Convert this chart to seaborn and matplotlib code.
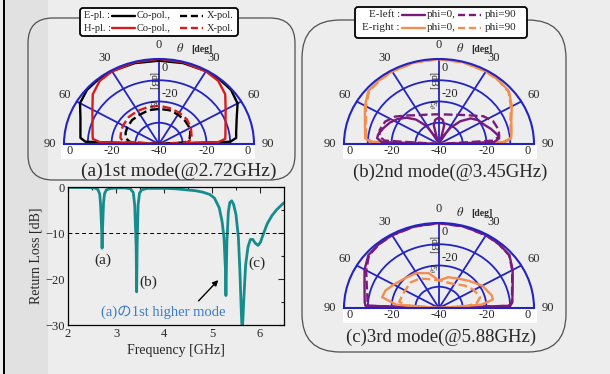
import numpy as np
import pandas as pd
import matplotlib
matplotlib.use('Agg')
import matplotlib.pyplot as plt
import seaborn as sns
from matplotlib.patches import FancyBboxPatch, Rectangle

# return loss of the antenna
freq_ghz = [2.0, 2.2, 2.4, 2.55, 2.62, 2.66, 2.68, 2.70, 2.71, 2.72, 2.74, 2.76, 2.80, 2.90,
            3.05, 3.20, 3.30, 3.36, 3.39, 3.42, 3.43, 3.44, 3.46, 3.49, 3.54, 3.65, 3.85,
            4.05, 4.25, 4.45, 4.65, 4.80, 4.95, 5.05, 5.15, 5.21, 5.25, 5.28, 5.29, 5.31,
            5.34, 5.37, 5.41, 5.45, 5.50, 5.55, 5.58, 5.61, 5.63, 5.66, 5.70, 5.75, 5.80,
            5.85, 5.90, 5.96, 6.01, 6.06, 6.15, 6.25, 6.35, 6.50]
return_loss_db = [-0.1, -0.1, -0.1, -0.2, -0.5, -1.5, -4, -9, -13.3, -9, -3.5, -1.5, -0.6, -0.3,
                  -0.2, -0.2, -0.4, -1.2, -4, -13, -22.8, -13, -4, -1.3, -0.6, -0.3, -0.3,
                  -0.3, -0.4, -0.6, -0.8, -1.1, -1.6, -2.4, -4.5, -7.5, -11, -18, -23.6, -12,
                  -5.5, -3.4, -3.0, -3.8, -6, -11, -18, -27, -32, -25, -17, -13, -11.4,
                  -11.4, -12.2, -12.7, -12, -10.5, -8, -6.2, -4.9, -3.4]

# radiation patterns: theta [deg] and E_theta [dB]
theta_a = [-90, -88, -85, -80, -70, -60, -50, -40, -30, -15, 0, 15, 30, 40, 50, 60, 70, 80, 85, 88, 90]
e_co_a = [-40, -9, -6.8, -6.4, -4.8, -1.6, -0.4, -0.3, -0.4, -0.6, -0.8, -0.6, -0.4, -0.3, -0.4,
          -1.8, -5.2, -7, -7.4, -10, -40]
h_co_a = [-40, -15, -12, -11.6, -10.2, -7.6, -3.6, -1.2, -0.5, -0.2, 0, -0.2, -0.5, -1.2, -3.6,
          -7.6, -10.2, -11.6, -12, -15, -40]
theta_ax = [-90, -86, -80, -70, -60, -45, -30, -15, 0, 15, 30, 45, 60, 70, 80, 86, 90]
e_x_a = [-40, -28, -26, -25, -24.5, -24, -24, -23.5, -23.5, -23.5, -24, -24.5, -25, -26, -27, -29, -40]
h_x_a = [-40, -25, -23.5, -23, -22.5, -22, -22, -22, -22, -22.5, -23, -23.5, -24.5, -25.5, -26, -28, -40]

theta_b = theta_a
e_right_phi0_b = [-40, -11, -8.8, -8.4, -6.8, -4, -1.2, -0.8, -0.5, -0.2, 0, -0.2, -0.5, -0.8,
                  -1.5, -4.6, -7.6, -9, -9.5, -12, -40]
e_right_phi90_b = [-40, -12, -9.2, -8.8, -7.2, -4.5, -1.5, -1, -0.6, -0.3, -0.1, -0.3, -0.6, -1,
                   -1.8, -5, -8, -9.4, -9.8, -13, -40]
theta_bl = [-90, -88, -84, -80, -72, -64, -56, -48, -40, -32, -26, -20, -14, -8, 0,
            8, 14, 20, 26, 32, 40, 48, 56, 64, 72, 80, 84, 88, 90]
e_left_phi0_b = [-40, -16, -13.8, -14, -15.5, -17, -19, -21.5, -25, -30, -36, -38, -31, -28.5, -27.5,
                 -28.5, -31, -38, -36, -31, -26, -22, -20, -19, -17, -15, -14.5, -17, -40]
theta_bd = [-90, -86, -82, -75, -65, -55, -45, -35, -20, 0, 20, 35, 45, 55, 65, 75, 82, 86, 90]
e_left_phi90_b = [-40, -17, -14.6, -14.2, -15, -17.5, -21, -23.5, -25.3, -26, -25.3, -23.3, -21,
                  -17.2, -14.8, -14, -14.4, -17, -40]

theta_c = theta_a
e_left_phi0_c = [-40, -9, -8.6, -8.2, -6.6, -3.8, -1.2, -0.7, -0.4, -0.2, 0, -0.2, -0.4, -0.7,
                 -1.3, -4.2, -7, -8.6, -9, -10, -40]
e_left_phi90_c = [-40, -10, -9.8, -9.4, -7.6, -4.6, -1.5, -0.8, -0.5, -0.3, -0.1, -0.3, -0.5, -0.8,
                  -1.4, -4.4, -7.2, -8.8, -9.2, -10.5, -40]
theta_cr = [-90, -85, -78, -70, -60, -45, -30, -15, 0, 15, 30, 45, 60, 75, 80, 85, 90]
e_right_phi0_c = [-40, -22, -15.5, -16, -18, -20, -21, -23, -27, -25, -24, -22, -19, -17, -17, -22, -40]
theta_crd = [-90, -85, -80, -65, -45, -30, -15, 0, 15, 30, 45, 60, 74, 82, 88, 90]
e_right_phi90_c = [-40, -26, -23, -23.5, -23, -24, -26, -27, -27.5, -27, -25, -23, -22, -24, -30, -40]

theta_ticks = [-90, -60, -30, 0, 30, 60, 90]
theta_tick_labels = ['90', '60', '30', '0', '30', '60', '90']
r_rings = [-30, -20, -10]
base_labels = ['0', '-20', '-40', '-20', '0']

BLUE = '#2323c4'
TEAL = '#168c8c'
PURPLE = '#7a1a7a'
ORANGE = '#f28f4e'
RED = '#d41e1e'

sns.set_theme(style='white')
plt.rcParams['font.family'] = ['Liberation Serif', 'Noto Sans CJK JP']
plt.rcParams['mathtext.fontset'] = 'stix'

W, H = 610, 374
fig = plt.figure(figsize=(6.1, 3.74), dpi=100, facecolor='#ededed')


def fx(x):
    return x / W


def fy(y):
    return 1 - y / H


# background layer: stripes, frames, white strips under the polar plots
bg = fig.add_axes([0, 0, 1, 1], zorder=-5)
bg.set_xlim(0, W)
bg.set_ylim(H, 0)
bg.axis('off')
bg.add_patch(Rectangle((5, 0), 43, H, fc='#e1e1e1', ec='none'))
bg.add_patch(Rectangle((2.5, 0), 2.5, H, fc='black', ec='none'))
bg.add_patch(FancyBboxPatch((28, 18), 267, 162, boxstyle='round,pad=0,rounding_size=25',
                            fc='none', ec='#505050', lw=0.9))
bg.add_patch(FancyBboxPatch((302, 20), 264, 332, boxstyle='round,pad=0,rounding_size=38',
                            fc='none', ec='#505050', lw=0.9))
for (x0, y0) in [(61, 144), (343, 144), (343, 308)]:
    bg.add_patch(Rectangle((x0, y0), 194, 15, fc='white', ec='none'))


def polar_panel(cx, cy, curves):
    # matplotlib squares the half-disc bbox, so the axes is twice as tall as the half disc
    rx, ry = 95, 85
    ax = fig.add_axes([fx(cx - rx), fy(cy + ry / 2), 2 * rx / W, 2 * ry / H], projection='polar')
    for th, vals, col, ls in curves:
        sns.lineplot(x=np.deg2rad(th), y=vals, ax=ax, color=col, lw=1.7, linestyle=ls,
                     sort=False, estimator=None)
    ax.set_theta_zero_location('N')
    ax.set_theta_direction(-1)
    ax.set_thetamin(-90)
    ax.set_thetamax(90)
    ax.set_ylim(-40, 0)
    ax.set_aspect('auto')
    ax.set_facecolor('none')
    ax.set_xlabel('')
    ax.set_ylabel('')
    ax.set_xticks(np.deg2rad(theta_ticks))
    ax.set_xticklabels(theta_tick_labels, fontsize=9)
    ax.tick_params(axis='x', pad=-3)
    ax.set_yticks(r_rings)
    ax.set_yticklabels([])
    ax.grid(True, color=BLUE, lw=1.3)
    for s in ax.spines.values():
        s.set_color(BLUE)
        s.set_linewidth(1.5)
    # radial scale and axis names
    ax.annotate('0', (0, 0), xytext=(2, -2), textcoords='offset points', ha='left', va='top', fontsize=9)
    ax.annotate('-20', (0, -20), xytext=(2, 1), textcoords='offset points', ha='left', va='bottom', fontsize=9)
    ax.annotate('[dB]', (0, -6), xytext=(-1, 0), textcoords='offset points', ha='right', va='top',
                rotation=-90, fontsize=7)
    ax.annotate(r'$E_\theta$', (0, -19), xytext=(-1, 0), textcoords='offset points', ha='right',
                va='top', rotation=-90, fontsize=6)
    ax.annotate(r'$\theta$', (0, 0), xytext=(12, 3), textcoords='offset points', ha='left',
                va='bottom', fontsize=9)
    ax.annotate('[deg]', (0, 0), xytext=(23, 3.5), textcoords='offset points', ha='left',
                va='bottom', fontsize=7, fontweight='bold')
    base_pos = [(-90, 0, 'left', 2), (-90, -20, 'center', 0), (0, -40, 'center', 0),
                (90, -20, 'center', 0), (90, 0, 'right', -2)]
    for (th, r, ha, dx), lab in zip(base_pos, base_labels):
        ax.annotate(lab, (np.deg2rad(th), r), xytext=(dx, -1), textcoords='offset points',
                    ha=ha, va='top', fontsize=9)
    return ax


polar_panel(159, 144, [(theta_a, e_co_a, 'black', '-'), (theta_a, h_co_a, RED, '-'),
                       (theta_ax, e_x_a, 'black', '--'), (theta_ax, h_x_a, RED, '--')])
polar_panel(439, 144, [(theta_b, e_right_phi0_b, ORANGE, '-'), (theta_b, e_right_phi90_b, ORANGE, '--'),
                       (theta_bl, e_left_phi0_b, PURPLE, '-'), (theta_bd, e_left_phi90_b, PURPLE, '--')])
polar_panel(439, 308, [(theta_c, e_left_phi0_c, PURPLE, '-'), (theta_c, e_left_phi90_c, PURPLE, '--'),
                       (theta_cr, e_right_phi0_c, ORANGE, '-'), (theta_crd, e_right_phi90_c, ORANGE, '--')])

# return loss
rl = pd.DataFrame({'freq': freq_ghz, 'rl': return_loss_db})
ax = fig.add_axes([fx(68), fy(325), (284 - 68) / W, (325 - 187) / H])
ax.set_facecolor('none')
sns.lineplot(data=rl, x='freq', y='rl', ax=ax, color=TEAL, lw=2.0, sort=False, estimator=None)
ax.axhline(-10, color='black', lw=0.7, ls=(0, (4, 3)))
ax.set_xlim(2, 6.5)
ax.set_ylim(-30, 0)
ax.set_xticks([2, 3, 4, 5, 6])
ax.set_yticks([0, -10, -20, -30])
ax.set_xticks(np.arange(2.5, 6.5, 1), minor=True)
ax.set_yticks([-5, -15, -25], minor=True)
ax.tick_params(which='both', direction='in', top=True, right=True, labelsize=9, pad=2)
ax.tick_params(which='major', length=4, width=0.8)
ax.tick_params(which='minor', length=2.5, width=0.8)
for s in ax.spines.values():
    s.set_color('black')
    s.set_linewidth(0.9)
ax.set_xlabel('Frequency [GHz]', fontsize=10, labelpad=3)
ax.set_ylabel('Return Loss [dB]', fontsize=10, labelpad=2)
ax.text(2.73, -15.9, '(a)', ha='center', va='center', fontsize=11)
ax.text(3.67, -20.6, '(b)', ha='center', va='center', fontsize=11)
ax.text(5.93, -16.5, '(c)', ha='center', va='center', fontsize=11)
ax.text(3.98, -27.2, '(a)の1st higher mode', color='#3a7cc8', ha='center', va='center', fontsize=10.5)
ax.annotate('', xy=(5.17, -19.8), xytext=(4.68, -25.2),
            arrowprops=dict(arrowstyle='-|>', color='black', lw=1.0, mutation_scale=8))

# foreground layer: legends and captions
ov = fig.add_axes([0, 0, 1, 1], zorder=10)
ov.set_xlim(0, W)
ov.set_ylim(H, 0)
ov.axis('off')
ov.patch.set_alpha(0)

ov.add_patch(FancyBboxPatch((80, 8), 158, 28, boxstyle='round,pad=0,rounding_size=3',
                            fc='white', ec='black', lw=1.3))
for y, name, col in [(15.5, 'E-pl. :', 'black'), (28, 'H-pl. :', RED)]:
    ov.text(84, y, name, ha='left', va='center', fontsize=7.5)
    ov.plot([112, 135], [y, y], color=col, lw=1.7)
    ov.text(137, y, 'Co-pol.,', ha='left', va='center', fontsize=7.5)
    ov.plot([180, 203], [y, y], color=col, lw=1.7, ls=(0, (3, 1.6)))
    ov.text(207, y, 'X-pol.', ha='left', va='center', fontsize=7.5)

ov.add_patch(FancyBboxPatch((355, 7), 172, 31, boxstyle='round,pad=0,rounding_size=3',
                            fc='white', ec='black', lw=1.3))
for y, name, col in [(14.5, 'E-left :', PURPLE), (27.5, 'E-right :', ORANGE)]:
    ov.text(400, y, name, ha='right', va='center', fontsize=8)
    ov.plot([402, 425], [y, y], color=col, lw=1.7)
    ov.text(427, y, 'phi=0,', ha='left', va='center', fontsize=8)
    ov.plot([458, 481], [y, y], color=col, lw=1.7, ls=(0, (3, 1.6)))
    ov.text(485, y, 'phi=90', ha='left', va='center', fontsize=8)

ov.text(179, 171, '(a)1st mode(@2.72GHz)', ha='center', va='center', fontsize=14)
ov.text(450, 172, '(b)2nd mode(@3.45GHz)', ha='center', va='center', fontsize=13.5)
ov.text(441, 337, '(c)3rd mode(@5.88GHz)', ha='center', va='center', fontsize=13.5)

fig.savefig('out.png', dpi=100, facecolor=fig.get_facecolor())
